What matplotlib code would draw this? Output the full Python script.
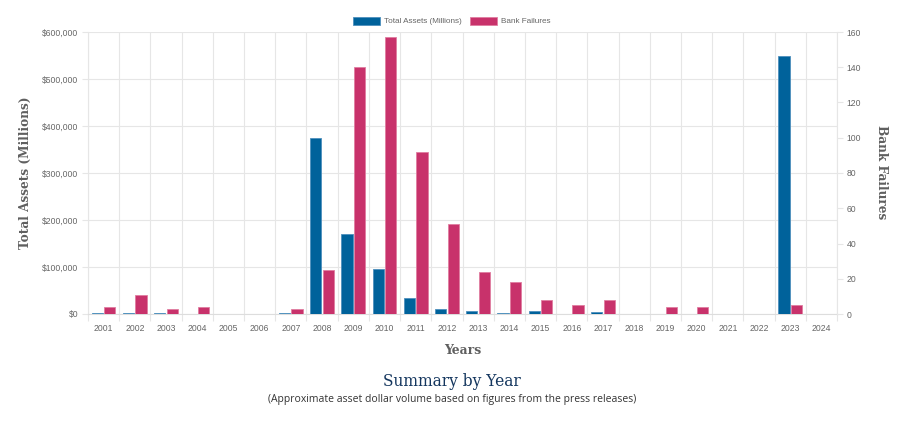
import matplotlib
matplotlib.use("Agg")
import matplotlib.pyplot as plt
from matplotlib.patches import Patch
import numpy as np

years = [str(y) for y in range(2001, 2025)]
total_assets = [2357, 2508, 1097, 170, 0, 0, 2615, 373589, 170867, 96514, 34923, 11617,
                6044, 2914, 6706, 277, 5082, 0, 209, 458, 0, 0, 548472, 0]
bank_failures = [4, 11, 3, 4, 0, 0, 3, 25, 140, 157, 92, 51,
                 24, 18, 8, 5, 8, 0, 4, 4, 0, 0, 5, 0]
left_ticks = [0, 100000, 200000, 300000, 400000, 500000, 600000]
right_ticks = [0, 20, 40, 60, 80, 100, 120, 140, 160]

BLUE = "#00629b"
PINK = "#c8326b"
GRID = "#e6e6e6"
TICKC = "#666666"

W, H = 908, 422
fig = plt.figure(figsize=(W / 100, H / 100), dpi=100)
L, R, T, B = 88, 837, 32, 314
ax = fig.add_axes([L / W, 1 - B / H, (R - L) / W, (B - T) / H])
ax2 = ax.twinx()

x = np.arange(len(years))
bw = 0.36
ax.bar(x - 0.2, total_assets, width=bw, color=BLUE, edgecolor="#4d8fbd", linewidth=0.6, zorder=3)
ax2.bar(x + 0.2, bank_failures, width=bw, color=PINK, edgecolor="#e07da0", linewidth=0.6, zorder=3)

ax.set_xlim(-0.5, len(years) - 0.5)
ax.set_ylim(0, 600000)
ax2.set_ylim(0, 160)
ax.set_yticks(left_ticks)
ax.set_yticklabels(["${:,}".format(v) for v in left_ticks])
ax2.set_yticks(right_ticks)
ax2.set_yticklabels([str(v) for v in right_ticks])

ax.set_xticks(x)
ax.set_xticklabels(years)
ax.set_xticks(np.arange(-0.5, len(years)), minor=True)
ax.grid(False)
for b in np.arange(-0.5, len(years)):
    ax.axvline(b, color=GRID, lw=0.8, zorder=0)
for v in left_ticks:
    ax.axhline(v, color=GRID, lw=0.8, zorder=0)

TS = 6.2
ax.tick_params(axis="x", which="major", length=0, pad=7, labelcolor=TICKC, labelsize=TS)
ax.tick_params(axis="x", which="minor", length=5, color=GRID, width=0.8)
ax.tick_params(axis="y", length=4, color=GRID, width=0.8, pad=3, labelcolor=TICKC, labelsize=TS)
ax2.tick_params(axis="y", length=4, color=GRID, width=0.8, pad=3, labelcolor=TICKC, labelsize=TS)
for lab in ax.get_xticklabels() + ax.get_yticklabels() + ax2.get_yticklabels():
    lab.set_fontfamily("Liberation Sans")

for a in (ax, ax2):
    for s in a.spines.values():
        s.set_visible(False)
ax2.spines["right"].set_visible(True)
ax2.spines["right"].set_color(GRID)
ax2.spines["right"].set_linewidth(0.8)
ax.spines["left"].set_visible(True)
ax.spines["left"].set_color(GRID)
ax.spines["bottom"].set_visible(True)
ax.spines["bottom"].set_color("#dddddd")

serif = "DejaVu Serif"
fig.text(25 / W, 1 - 173 / H, "Total Assets (Millions)", rotation=90, ha="center", va="center",
         fontsize=8.7, fontweight="bold", family=serif, color="#5f5f5f")
fig.text(882 / W, 1 - 172 / H, "Bank Failures", rotation=270, ha="center", va="center",
         fontsize=8.7, fontweight="bold", family=serif, color="#5f5f5f")
fig.text(463 / W, 1 - 350 / H, "Years", ha="center", va="center",
         fontsize=8.9, fontweight="bold", family=serif, color="#5f5f5f")
fig.text(452 / W, 1 - 381 / H, "Summary by Year", ha="center", va="center",
         fontsize=11.2, family=serif, color="#14365e")
fig.text(452 / W, 1 - 399.5 / H, "(Approximate asset dollar volume based on figures from the press releases)",
         ha="center", va="center", fontsize=7.5, family="Open Sans", color="#333333")

handles = [Patch(facecolor=BLUE, edgecolor="#4d8fbd", lw=0.6), Patch(facecolor=PINK, edgecolor="#e07da0", lw=0.6)]
fig.legend(handles, ["Total Assets (Millions)", "Bank Failures"], loc="center",
           bbox_to_anchor=(452 / W, 1 - 21 / H), ncol=2, frameon=False,
           prop=dict(family="Liberation Sans", size=5.9), labelcolor=TICKC,
           handlelength=3.3, handleheight=1.2, handletextpad=0.5, columnspacing=1.0)

fig.savefig("out.png", dpi=100)
